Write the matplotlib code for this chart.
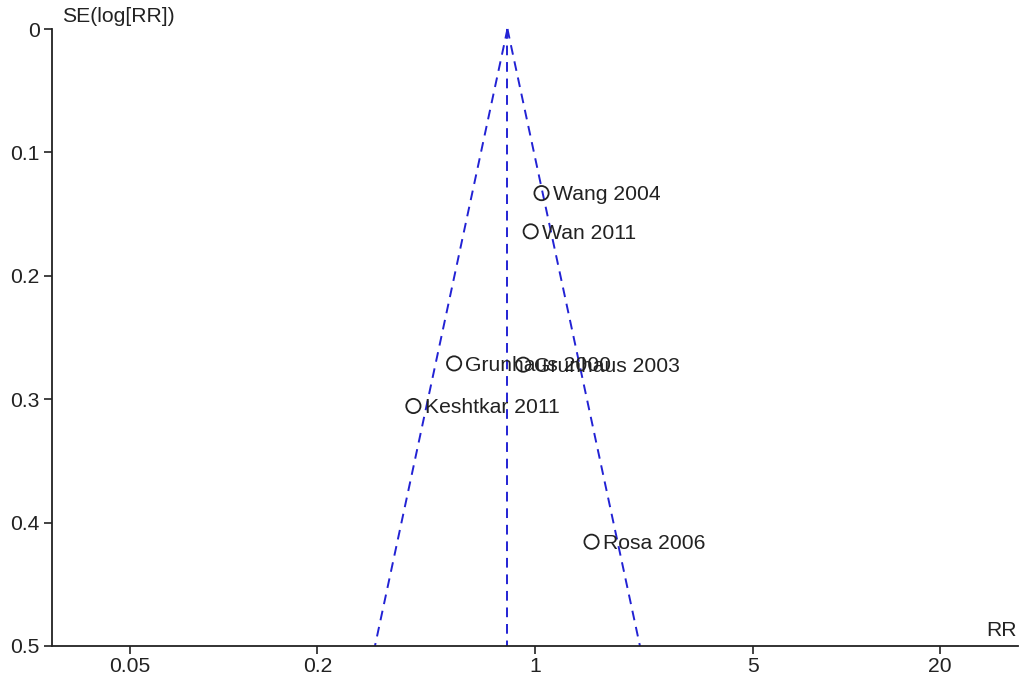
import numpy as np
import matplotlib
matplotlib.use("Agg")
import matplotlib.pyplot as plt

plt.rcParams['font.family'] = ['Liberation Sans', 'DejaVu Sans']

studies = ["Wang 2004", "Wan 2011", "Grunhaus 2000", "Grunhaus 2003", "Keshtkar 2011", "Rosa 2006"]
rr = [1.05, 0.969, 0.55, 0.917, 0.407, 1.52]
se = [0.133, 0.164, 0.271, 0.272, 0.3055, 0.4155]
summary_rr = 0.816
se_max = 0.5
xticks = [0.05, 0.2, 1, 5, 20]
xtick_labels = ["0.05", "0.2", "1", "5", "20"]
yticks = [0, 0.1, 0.2, 0.3, 0.4, 0.5]
ytick_labels = ["0", "0.1", "0.2", "0.3", "0.4", "0.5"]

fs = 15.2
fig = plt.figure(figsize=(10.22, 6.81), dpi=100)
ax = fig.add_axes([0.0509, 0.0514, 0.9451, 0.906])

ax.set_xscale('log')
ax.set_xlim(0.0281, 35.6)
ax.set_ylim(se_max, 0)

blue = '#2222d4'
lsum = np.log(summary_rr)
se_line = np.array([0, se_max])
dash = (0, (5, 3.5))
ax.plot(np.exp(lsum - 1.96 * se_line), se_line, color=blue, lw=1.4, ls=dash, clip_on=False)
ax.plot(np.exp(lsum + 1.96 * se_line), se_line, color=blue, lw=1.4, ls=dash, clip_on=False)
ax.plot([summary_rr, summary_rr], [0, se_max], color=blue, lw=1.4, ls=dash, clip_on=False)

ax.scatter(rr, se, s=105, facecolors='none', edgecolors='#222222', linewidths=1.3, zorder=3, clip_on=False)
for name, x, y in zip(studies, rr, se):
    ax.annotate(name, (x, y), xytext=(8, -1.2), textcoords='offset points',
                ha='left', va='center', fontsize=fs, color='#222222')

ax.set_xticks(xticks)
ax.set_xticklabels(xtick_labels)
ax.xaxis.set_minor_locator(matplotlib.ticker.NullLocator())
ax.set_yticks(yticks)
ax.set_yticklabels(ytick_labels)
ax.tick_params(axis='both', direction='out', length=6, width=1.2, labelsize=fs, colors='#222222')
ax.tick_params(axis='x', pad=2)
ax.tick_params(axis='y', pad=3)

for s in ['top', 'right']:
    ax.spines[s].set_visible(False)
for s in ['left', 'bottom']:
    ax.spines[s].set_linewidth(1.3)
    ax.spines[s].set_color('#222222')

fig.text(62 / 1022, 1 - 16 / 681, "SE(log[RR])", ha='left', va='center', fontsize=fs, color='#222222')
fig.text(1017 / 1022, 1 - 631 / 681, "RR", ha='right', va='center', fontsize=fs, color='#222222')

fig.savefig("out.png", dpi=100)
